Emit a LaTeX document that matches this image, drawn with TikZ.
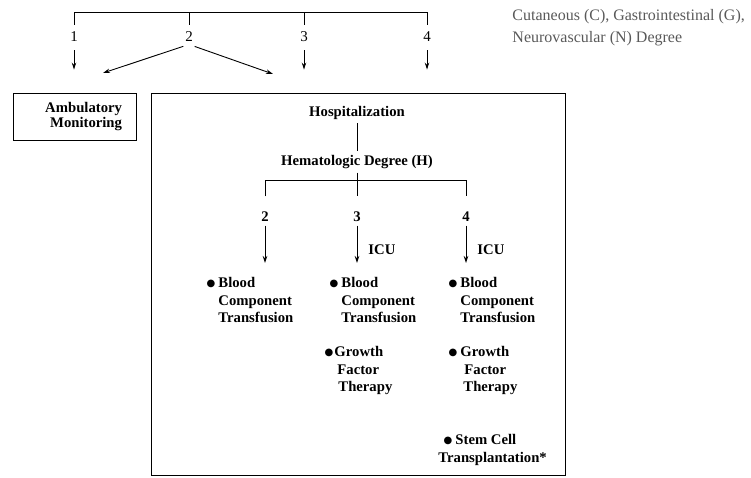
\documentclass[tikz,border=0pt]{standalone}
\usepackage{fontspec}
\setmainfont{Liberation Serif}
\newfontfamily\symfont{DejaVu Sans}
\usetikzlibrary{arrows.meta}
\tikzset{
  every node/.style={font=\fontsize{14.7}{17.5}\selectfont\bfseries},
  arr/.style={-{Stealth[length=7pt,width=4.5pt]}},
  num/.style={font=\fontsize{15}{17}\selectfont, inner sep=2pt},
  item/.style={anchor=north west, align=left, inner sep=0pt},
  note/.style={anchor=north west, align=left, inner sep=0pt, text=black!65,
    font=\fontsize{16}{21.5}\selectfont}
}
\newcommand{\bul}[1][3pt]{\llap{\raisebox{1.5pt}{\symfont\fontsize{10}{10}\selectfont ●}\hspace{#1}}}
\begin{document}
\begin{tikzpicture}[x=1pt, y=-1pt, line width=0.9pt]
\useasboundingbox (0,0) rectangle (751,477);
% top level
\foreach \i/\x in {1/74,2/189,3/304,4/427}
  \node[num] (t\i) at (\x,37) {\i};
\coordinate (top) at (0,12);
\draw[shorten <=5pt, shorten >=5pt] (t1.north) -- (t1.north |- top) -- (t4.north |- top) -- (t4.north);
\foreach \i in {2,3}
  \draw[shorten <=5pt] (t\i.north) -- (t\i.north |- top);
\node[note] (deg) at (512,9) {Cutaneous (C), Gastrointestinal (G),\\Neurovascular (N) Degree};

\node[draw, minimum width=123pt, minimum height=47pt, text width=95pt, align=right,
  inner xsep=14pt, font=\fontsize{14.7}{15}\selectfont\bfseries] (amb) at (74.5,116.5) {Ambulatory\\Monitoring};
\node[draw, minimum width=414pt, minimum height=382pt, inner sep=0pt] (frame) at (358,284) {};

\draw[arr, shorten <=6pt, shorten >=23pt] (t1.south) -- (t1.south |- amb.north);
\foreach \i in {3,4}
  \draw[arr, shorten <=6pt, shorten >=23pt] (t\i.south) -- (t\i.south |- frame.north);
\coordinate (amb in) at (103,73);
\coordinate (hosp in) at (273,74);
\draw[arr, shorten <=6pt] (t2.south) -- (amb in);
\draw[arr, shorten <=6pt] (t2.south) -- (hosp in);

% hospitalization
\node (hosp) at (357,113) {Hospitalization};
\node (hem) at (357,162) {Hematologic Degree (H)};
\draw (hosp.south) -- (hem.north);
\foreach \i/\x in {2/265,3/357,4/466}
  \node (h\i) at (\x,217) {\i};
\coordinate (bar) at (0,180);
\coordinate (row) at (0,263);
\draw[shorten <=12pt, shorten >=12pt] (h2.north) -- (h2.north |- bar) -- (h4.north |- bar) -- (h4.north);
\draw[shorten >=12pt] (hem.south) -- (h3.north);
\foreach \i in {2,3,4}
  \draw[arr] (h\i.south) -- (h\i.south |- row);
\node[anchor=west, inner sep=0pt] (icu3) at (368,250) {ICU};
\node[anchor=west, inner sep=0pt] (icu4) at (477,250) {ICU};

% treatments
\node[item] (bct2) at (218,277) {\bul Blood\\Component\\Transfusion};
\node[item] (bct3) at (341,277) {\bul Blood\\Component\\Transfusion};
\node[item] (bct4) at (460,277) {\bul Blood\\Component\\Transfusion};
\node[item] (gft3) at (334,346) {\bul[1pt]Growth\\\hspace*{3pt}Factor\\\hspace*{4pt}Therapy};
\node[item] (gft4) at (460,346) {\bul Growth\\\hspace*{4pt}Factor\\\hspace*{3pt}Therapy};
\node[item] (sct4) at (438,434) {\hspace*{17pt}\bul Stem Cell\\Transplantation*};
\end{tikzpicture}
\end{document}
